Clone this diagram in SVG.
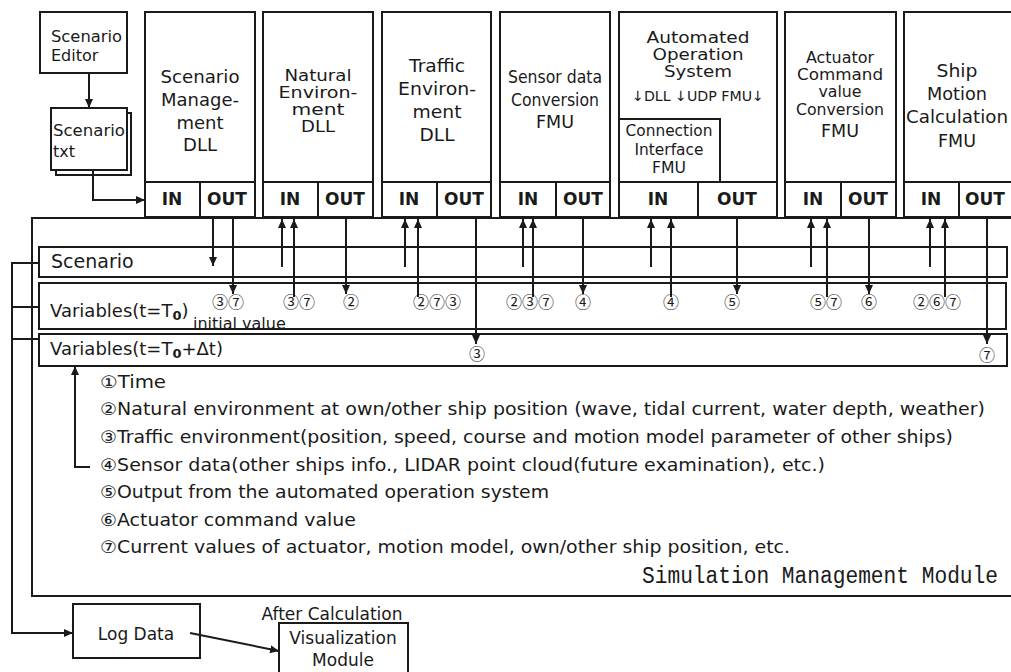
<svg xmlns="http://www.w3.org/2000/svg" width="1011" height="672" viewBox="0 0 1011 672">
<defs>
<style>
.bx{fill:#fff;stroke:#1a1a1a;stroke-width:2}
.ln{fill:none;stroke:#1a1a1a;stroke-width:2}
.t{font-family:"DejaVu Sans","Noto Sans CJK JP",sans-serif;fill:#1a1a1a}
.m{font-size:17px;text-anchor:middle}
.n{font-size:16px;text-anchor:middle}
.s{font-size:16px}
.io{font-family:"DejaVu Sans",sans-serif;font-weight:bold;font-size:17px;text-anchor:middle;fill:#1a1a1a}
.c{font-family:"Noto Sans CJK JP","DejaVu Sans",sans-serif;font-size:16px;text-anchor:middle;fill:#1a1a1a}
.lg{font-size:17px}
.mono{font-family:"Liberation Mono",monospace;font-size:21px;fill:#1a1a1a}
</style>
<marker id="ah" viewBox="0 0 9 8" refX="9" refY="4" markerWidth="9" markerHeight="8" markerUnits="userSpaceOnUse" orient="auto"><path d="M0,0 L9,4 L0,8 z" fill="#1a1a1a"/></marker>
</defs>
<rect width="1011" height="672" fill="#fff"/>

<g id="sim-module">
<rect class="bx" x="32" y="218" width="990" height="378"/>
<text class="mono" transform="translate(642,583) scale(1,1.15)" x="0" y="0" textLength="356" lengthAdjust="spacingAndGlyphs">Simulation Management Module</text>
</g>

<g id="scenario-bar">
<rect class="bx" x="39" y="247" width="968" height="30"/>
<text class="t" x="51" y="268" font-size="19">Scenario</text>
</g>
<g id="var-t0">
<rect class="bx" x="39" y="283" width="967" height="46"/>
<text class="t" x="50" y="317" font-size="18">Variables(t=T<tspan font-size="13" font-weight="bold" dy="3">0</tspan><tspan dy="-3">)</tspan></text>
<text class="t s" x="193" y="329">initial value</text>
</g>
<g id="var-dt">
<rect class="bx" x="39" y="334" width="968" height="32"/>
<text class="t" x="50" y="355" font-size="18">Variables(t=T<tspan font-size="13" font-weight="bold" dy="3">0</tspan><tspan dy="-3">+Δt)</tspan></text>
</g>

<g id="scenario-editor">
<rect class="bx" x="40" y="12" width="87" height="61"/>
<text class="t s" x="51" y="42" textLength="71" lengthAdjust="spacingAndGlyphs">Scenario</text>
<text class="t s" x="51" y="61">Editor</text>
</g>
<g id="scenario-txt">
<rect class="bx" x="56" y="113" width="75" height="62"/>
<rect class="bx" x="51" y="108" width="76" height="62"/>
<text class="t s" x="53" y="136" textLength="72" lengthAdjust="spacingAndGlyphs">Scenario</text>
<text class="t s" x="53" y="157">txt</text>
</g>

<g id="scenario-management">
<rect class="bx" x="145" y="12" width="110" height="205"/>
<line class="ln" x1="145" y1="182" x2="255" y2="182"/>
<line class="ln" x1="200" y1="182" x2="200" y2="217"/>
<text class="t" font-size="18" text-anchor="middle" x="200" y="83" textLength="79" lengthAdjust="spacingAndGlyphs">Scenario</text>
<text class="t" font-size="18" text-anchor="middle" x="200" y="106">Manage-</text>
<text class="t" font-size="18" text-anchor="middle" x="200" y="129">ment</text>
<text class="t" font-size="18" text-anchor="middle" x="200" y="151">DLL</text>
<text class="io" x="172" y="205">IN</text>
<text class="io" x="227" y="205">OUT</text>
</g>

<g id="natural-environment">
<rect class="bx" x="263" y="12" width="110" height="205"/>
<line class="ln" x1="263" y1="182" x2="373" y2="182"/>
<line class="ln" x1="318" y1="182" x2="318" y2="217"/>
<text class="t n" x="318" y="81" textLength="67" lengthAdjust="spacingAndGlyphs">Natural</text>
<text class="t n" x="318" y="98" textLength="79" lengthAdjust="spacingAndGlyphs">Environ-</text>
<text class="t n" x="318" y="115" textLength="53" lengthAdjust="spacingAndGlyphs">ment</text>
<text class="t n" x="318" y="132" textLength="34" lengthAdjust="spacingAndGlyphs">DLL</text>
<text class="io" x="290" y="205">IN</text>
<text class="io" x="345" y="205">OUT</text>
</g>

<g id="traffic-environment">
<rect class="bx" x="382" y="12" width="109" height="205"/>
<line class="ln" x1="382" y1="182" x2="491" y2="182"/>
<line class="ln" x1="437" y1="182" x2="437" y2="217"/>
<text class="t m" x="437" y="72" textLength="56" lengthAdjust="spacingAndGlyphs">Traffic</text>
<text class="t m" x="437" y="95" textLength="78" lengthAdjust="spacingAndGlyphs">Environ-</text>
<text class="t m" x="437" y="118" textLength="49" lengthAdjust="spacingAndGlyphs">ment</text>
<text class="t m" x="437" y="141" textLength="35" lengthAdjust="spacingAndGlyphs">DLL</text>
<text class="io" x="409" y="205">IN</text>
<text class="io" x="464" y="205">OUT</text>
</g>

<g id="sensor-conversion">
<rect class="bx" x="500" y="12" width="110" height="205"/>
<line class="ln" x1="500" y1="182" x2="610" y2="182"/>
<line class="ln" x1="556" y1="182" x2="556" y2="217"/>
<text class="t m" x="555" y="83" textLength="94" lengthAdjust="spacingAndGlyphs">Sensor data</text>
<text class="t m" x="555" y="106" textLength="88" lengthAdjust="spacingAndGlyphs">Conversion</text>
<text class="t m" x="555" y="128" textLength="38" lengthAdjust="spacingAndGlyphs">FMU</text>
<text class="io" x="528" y="205">IN</text>
<text class="io" x="583" y="205">OUT</text>
</g>

<g id="automated-operation">
<rect class="bx" x="619" y="12" width="158" height="205"/>
<line class="ln" x1="619" y1="182" x2="777" y2="182"/>
<line class="ln" x1="698" y1="182" x2="698" y2="217"/>
<text class="t n" x="698" y="43" textLength="103" lengthAdjust="spacingAndGlyphs">Automated</text>
<text class="t n" x="698" y="60" textLength="91" lengthAdjust="spacingAndGlyphs">Operation</text>
<text class="t n" x="698" y="77" textLength="68" lengthAdjust="spacingAndGlyphs">System</text>
<text class="t" x="698" y="101" font-size="14" text-anchor="middle" textLength="132" lengthAdjust="spacingAndGlyphs">↓DLL ↓UDP FMU↓</text>
<text class="io" x="658" y="205">IN</text>
<text class="io" x="737" y="205">OUT</text>
</g>
<g id="connection-interface">
<rect class="bx" x="619" y="119" width="101" height="63"/>
<text class="t" x="669" y="136" font-size="15" text-anchor="middle" textLength="87" lengthAdjust="spacingAndGlyphs">Connection</text>
<text class="t" x="669" y="155" font-size="15" text-anchor="middle" textLength="69" lengthAdjust="spacingAndGlyphs">Interface</text>
<text class="t" x="669" y="173" font-size="15" text-anchor="middle" textLength="34" lengthAdjust="spacingAndGlyphs">FMU</text>
</g>

<g id="actuator-conversion">
<rect class="bx" x="785" y="12" width="111" height="205"/>
<line class="ln" x1="785" y1="182" x2="896" y2="182"/>
<line class="ln" x1="841" y1="182" x2="841" y2="217"/>
<text class="t n" x="840" y="63" textLength="68" lengthAdjust="spacingAndGlyphs">Actuator</text>
<text class="t n" x="840" y="80" textLength="86" lengthAdjust="spacingAndGlyphs">Command</text>
<text class="t n" x="840" y="97" textLength="43" lengthAdjust="spacingAndGlyphs">value</text>
<text class="t n" x="840" y="115" textLength="88" lengthAdjust="spacingAndGlyphs">Conversion</text>
<text class="t m" x="840" y="137" textLength="38" lengthAdjust="spacingAndGlyphs">FMU</text>
<text class="io" x="813" y="205">IN</text>
<text class="io" x="868" y="205">OUT</text>
</g>

<g id="ship-motion">
<rect class="bx" x="904" y="12" width="112" height="205"/>
<line class="ln" x1="904" y1="182" x2="1016" y2="182"/>
<line class="ln" x1="959" y1="182" x2="959" y2="217"/>
<text class="t m" x="957" y="77" textLength="41" lengthAdjust="spacingAndGlyphs">Ship</text>
<text class="t m" x="957" y="100" textLength="60" lengthAdjust="spacingAndGlyphs">Motion</text>
<text class="t m" x="957" y="123" textLength="102" lengthAdjust="spacingAndGlyphs">Calculation</text>
<text class="t m" x="957" y="147" textLength="38" lengthAdjust="spacingAndGlyphs">FMU</text>
<text class="io" x="931" y="205">IN</text>
<text class="io" x="985" y="205">OUT</text>
</g>

<g id="log-data">
<rect class="bx" x="73" y="604" width="127" height="54"/>
<text class="t" x="136" y="640" font-size="17" text-anchor="middle">Log Data</text>
</g>
<g id="visualization">
<rect class="bx" x="279" y="623" width="129" height="60"/>
<text class="t" x="343" y="644" font-size="17" text-anchor="middle">Visualization</text>
<text class="t" x="343" y="666" font-size="17" text-anchor="middle">Module</text>
<text class="t" x="332" y="620" font-size="17" text-anchor="middle">After Calculation</text>
</g>

<g id="connectors">
<path class="ln" d="M89,73 V108" marker-end="url(#ah)"/>
<path class="ln" d="M93,170 V200 H145" marker-end="url(#ah)"/>
<path class="ln" d="M39,263 H12 V633 H73" marker-end="url(#ah)"/>
<path class="ln" d="M12,307 H39 M12,339 H39"/>
<path class="ln" d="M190,633 L279,651" marker-end="url(#ah)"/>
<path class="ln" d="M90,467 H75 V366" marker-end="url(#ah)"/>
<path class="ln" d="M213,218 V266" marker-end="url(#ah)"/>
<path class="ln" d="M233,218 V294" marker-end="url(#ah)"/>
<path class="ln" d="M282,267 V219" marker-end="url(#ah)"/>
<path class="ln" d="M294,297 V219" marker-end="url(#ah)"/>
<path class="ln" d="M346,218 V294" marker-end="url(#ah)"/>
<path class="ln" d="M405,267 V219" marker-end="url(#ah)"/>
<path class="ln" d="M418,297 V219" marker-end="url(#ah)"/>
<path class="ln" d="M476,218 V344" marker-end="url(#ah)"/>
<path class="ln" d="M523,267 V219" marker-end="url(#ah)"/>
<path class="ln" d="M533,297 V219" marker-end="url(#ah)"/>
<path class="ln" d="M583,218 V294" marker-end="url(#ah)"/>
<path class="ln" d="M651,267 V219" marker-end="url(#ah)"/>
<path class="ln" d="M671,297 V219" marker-end="url(#ah)"/>
<path class="ln" d="M737,218 V294" marker-end="url(#ah)"/>
<path class="ln" d="M811,267 V219" marker-end="url(#ah)"/>
<path class="ln" d="M827,297 V219" marker-end="url(#ah)"/>
<path class="ln" d="M869,218 V294" marker-end="url(#ah)"/>
<path class="ln" d="M930,267 V219" marker-end="url(#ah)"/>
<path class="ln" d="M945,297 V219" marker-end="url(#ah)"/>
<path class="ln" d="M987,218 V344" marker-end="url(#ah)"/>
</g>

<g id="labels">
<text class="c" x="228" y="308">③⑦</text>
<text class="c" x="299" y="308">③⑦</text>
<text class="c" x="351" y="308">②</text>
<text class="c" x="437" y="308">②⑦③</text>
<text class="c" x="477" y="360">③</text>
<text class="c" x="530" y="308">②③⑦</text>
<text class="c" x="583" y="308">④</text>
<text class="c" x="671" y="308">④</text>
<text class="c" x="732" y="308">⑤</text>
<text class="c" x="826" y="308">⑤⑦</text>
<text class="c" x="869" y="308">⑥</text>
<text class="c" x="937" y="308">②⑥⑦</text>
<text class="c" x="987" y="361">⑦</text>
</g>

<g id="legend">
<text class="t lg" x="100" y="388" textLength="66" lengthAdjust="spacingAndGlyphs">①Time</text>
<text class="t lg" x="100" y="415" textLength="885" lengthAdjust="spacingAndGlyphs">②Natural environment at own/other ship position (wave, tidal current, water depth, weather)</text>
<text class="t lg" x="100" y="443" textLength="853" lengthAdjust="spacingAndGlyphs">③Traffic environment(position, speed, course and motion model parameter of other ships)</text>
<text class="t lg" x="100" y="471" textLength="725" lengthAdjust="spacingAndGlyphs">④Sensor data(other ships info., LIDAR point cloud(future examination), etc.)</text>
<text class="t lg" x="100" y="498" textLength="449" lengthAdjust="spacingAndGlyphs">⑤Output from the automated operation system</text>
<text class="t lg" x="100" y="526" textLength="256" lengthAdjust="spacingAndGlyphs">⑥Actuator command value</text>
<text class="t lg" x="100" y="553" textLength="690" lengthAdjust="spacingAndGlyphs">⑦Current values of actuator, motion model, own/other ship position, etc.</text>
</g>
</svg>
